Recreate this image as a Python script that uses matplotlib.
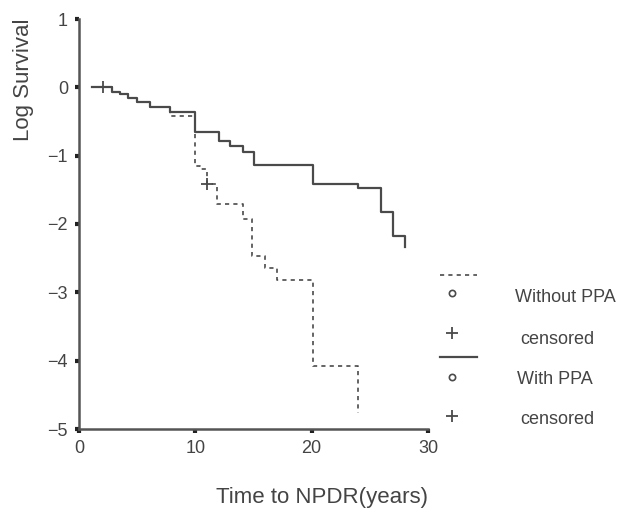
import matplotlib
matplotlib.use("Agg")
import matplotlib.pyplot as plt
from matplotlib.lines import Line2D

plt.rcParams['font.family'] = ['Liberation Sans', 'DejaVu Sans']

# Data (Kaplan-Meier style log survival)
with_t = [1.1, 2.8, 3.5, 4.2, 5.0, 6.1, 7.8, 10.0, 12.0, 13.0, 14.1, 15.0, 20.1, 24.0, 26.0, 27.0, 28.0]
with_v = [0, -0.07, -0.10, -0.15, -0.22, -0.29, -0.36, -0.66, -0.79, -0.86, -0.94, -1.14, -1.41, -1.47, -1.82, -2.17, -2.33]
with_cens_t = [2.1]
with_cens_v = [0.0]

without_t = [1.1, 2.8, 3.5, 4.2, 5.0, 6.1, 7.8, 10.0, 10.4, 11.0, 11.9, 14.1, 14.9, 16.0, 17.0, 20.1, 24.0]
without_v = [0, -0.07, -0.10, -0.15, -0.22, -0.29, -0.42, -1.15, -1.20, -1.42, -1.71, -1.93, -2.47, -2.65, -2.82, -4.08, -4.77]
without_cens_t = [11.0]
without_cens_v = [-1.42]

x_ticks = [0, 10, 20, 30]
y_ticks = [1, 0, -1, -2, -3, -4, -5]
legend_labels = ["Without PPA", "censored", "With PPA", "censored"]

W, H = 630, 509
fig = plt.figure(figsize=(W / 100, H / 100), dpi=100)
ax = fig.add_axes([79 / W, (H - 429) / H, (428 - 79) / W, (429 - 19) / H])

line_col = '#4a4a4a'
text_col = '#444444'

ax.step(with_t, with_v, where='post', color=line_col, lw=1.6)
ax.step(without_t, without_v, where='post', color=line_col, lw=1.2,
        linestyle=(0, (2.5, 2.5)))
ax.plot(with_cens_t, with_cens_v, '+', color=line_col, ms=8, mew=1.3)
ax.plot(without_cens_t, without_cens_v, '+', color=line_col, ms=8, mew=1.3)

ax.set_xlim(0, 30)
ax.set_ylim(-5, 1)
ax.set_xticks(x_ticks)
ax.set_yticks(y_ticks)
ax.set_yticklabels([str(v).replace('-', '\u2212') for v in y_ticks])
for s in ['top', 'right']:
    ax.spines[s].set_visible(False)
for s in ['left', 'bottom']:
    ax.spines[s].set_color('#555555')
    ax.spines[s].set_linewidth(1.8)
ax.tick_params(length=3, width=3, color='#222222', labelcolor=text_col,
               labelsize=13, pad=5)

# Axis titles in figure pixel coordinates
fig.text(322 / W, 1 - 497 / H, "Time to NPDR(years)", fontsize=16,
         color=text_col, ha='center', va='center')
fig.text(24 / W, 1 - 80 / H, "Log Survival", fontsize=16, rotation=90,
         color=text_col, ha='center', va='center')

# Legend drawn in figure pixel coordinates
lax = fig.add_axes([0, 0, 1, 1])
lax.set_xlim(0, W)
lax.set_ylim(H, 0)
lax.axis('off')
lax.add_line(Line2D([440, 477], [275, 275], color=line_col, lw=1.2,
                    linestyle=(0, (2.5, 2.5))))
lax.add_line(Line2D([440, 477], [357, 357], color=line_col, lw=1.6))
lax.plot([452, 452], [293, 377], 'o', ms=4.5, mfc='white', mec=line_col, mew=1.2)
lax.plot([452, 452], [333, 416], '+', ms=8, color=line_col, mew=1.3)
lax.text(515, 298, legend_labels[0], fontsize=13, color=text_col, va='center')
lax.text(520, 340, legend_labels[1], fontsize=13, color=text_col, va='center')
lax.text(517, 379, legend_labels[2], fontsize=13, color=text_col, va='center')
lax.text(520, 420, legend_labels[3], fontsize=13, color=text_col, va='center')

fig.savefig("out.png", dpi=100)
